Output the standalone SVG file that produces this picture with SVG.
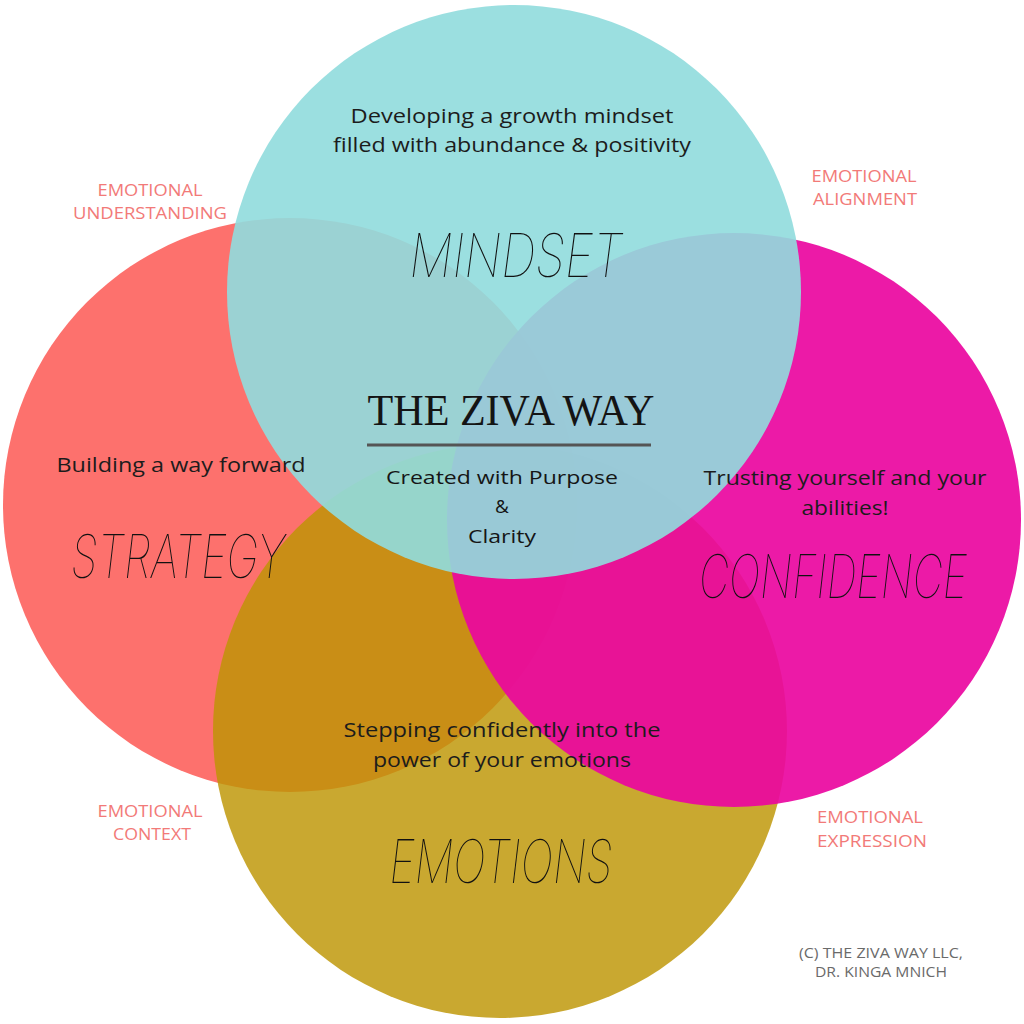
<svg xmlns="http://www.w3.org/2000/svg" width="1024" height="1024" viewBox="0 0 1024 1024">
  <style>
    .body { font-family: "Open Sans", "Noto Sans", "Liberation Sans", sans-serif; font-size: 20px; fill: #1c1c1c; text-anchor: middle; }
    .mid { font-family: "Open Sans", "Noto Sans", "Liberation Sans", sans-serif; font-size: 19px; font-weight: 500; fill: #151515; text-anchor: middle; }
    .tag { font-family: "Open Sans", "Noto Sans", "Liberation Sans", sans-serif; font-size: 17px; fill: #F27A78; text-anchor: middle; }
    .copy { font-family: "Open Sans", "Noto Sans", "Liberation Sans", sans-serif; font-size: 14px; fill: #6a6a6a; text-anchor: middle; }
    .script { font-family: "Inter", "Roboto", "Lato", sans-serif; font-weight: 100; font-style: italic; font-size: 60px; fill: #111; text-anchor: middle; }
    .title { font-family: "Liberation Serif", "DejaVu Serif", serif; font-size: 44px; fill: #141414; text-anchor: middle; }
  </style>
  <rect width="1024" height="1024" fill="#ffffff"/>

  <!-- circles -->
  <g id="circle-strategy"><circle cx="290" cy="505" r="287" fill="#FD716D"/></g>
  <g id="circle-emotions"><circle cx="500" cy="731" r="287" fill="#BD9502" fill-opacity="0.82"/></g>
  <g id="circle-confidence"><circle cx="734" cy="520" r="287" fill="#EA07A0" fill-opacity="0.92"/></g>
  <g id="circle-mindset"><circle cx="514" cy="292" r="287" fill="#91DCDD" fill-opacity="0.91"/></g>

  <g id="connectors"></g>

  <!-- labels -->
  <g id="node-mindset">
    <text class="body" x="512" y="123" textLength="323" lengthAdjust="spacingAndGlyphs">Developing a growth mindset</text>
    <text class="body" x="512" y="152" textLength="358" lengthAdjust="spacingAndGlyphs">filled with abundance &amp; positivity</text>
    <text class="script" x="516" y="277" textLength="213" lengthAdjust="spacingAndGlyphs">MINDSET</text>
  </g>

  <g id="node-center">
    <text class="title" x="511" y="425" textLength="287" lengthAdjust="spacingAndGlyphs">THE ZIVA WAY</text>
    <line x1="367" y1="445" x2="651" y2="445" stroke="#555555" stroke-width="3"/>
    <text class="mid" x="502" y="484" textLength="232" lengthAdjust="spacingAndGlyphs">Created with Purpose</text>
    <text class="mid" x="502" y="513">&amp;</text>
    <text class="mid" x="502" y="543" textLength="68" lengthAdjust="spacingAndGlyphs">Clarity</text>
  </g>

  <g id="node-strategy">
    <text class="body" x="181" y="472" textLength="249" lengthAdjust="spacingAndGlyphs">Building a way forward</text>
    <text class="script" x="178" y="578" textLength="214" lengthAdjust="spacingAndGlyphs">STRATEGY</text>
  </g>

  <g id="node-confidence">
    <text class="body" x="845" y="485" textLength="283" lengthAdjust="spacingAndGlyphs">Trusting yourself and your</text>
    <text class="body" x="845" y="515" textLength="87" lengthAdjust="spacingAndGlyphs">abilities!</text>
    <text class="script" x="833" y="598" textLength="268" lengthAdjust="spacingAndGlyphs">CONFIDENCE</text>
  </g>

  <g id="node-emotions">
    <text class="body" x="502" y="737" textLength="317" lengthAdjust="spacingAndGlyphs">Stepping confidently into the</text>
    <text class="body" x="502" y="767" textLength="258" lengthAdjust="spacingAndGlyphs">power of your emotions</text>
    <text class="script" x="501" y="883" textLength="223" lengthAdjust="spacingAndGlyphs">EMOTIONS</text>
  </g>

  <g id="tag-understanding">
    <text class="tag" x="150" y="196" textLength="105" lengthAdjust="spacingAndGlyphs">EMOTIONAL</text>
    <text class="tag" x="150" y="219" textLength="154" lengthAdjust="spacingAndGlyphs">UNDERSTANDING</text>
  </g>
  <g id="tag-alignment">
    <text class="tag" x="864" y="182" textLength="105" lengthAdjust="spacingAndGlyphs">EMOTIONAL</text>
    <text class="tag" x="865" y="205" textLength="104" lengthAdjust="spacingAndGlyphs">ALIGNMENT</text>
  </g>
  <g id="tag-context">
    <text class="tag" x="150" y="817" textLength="105" lengthAdjust="spacingAndGlyphs">EMOTIONAL</text>
    <text class="tag" x="152" y="840" textLength="78" lengthAdjust="spacingAndGlyphs">CONTEXT</text>
  </g>
  <g id="tag-expression">
    <text class="tag" x="870" y="823" textLength="106" lengthAdjust="spacingAndGlyphs">EMOTIONAL</text>
    <text class="tag" x="872" y="847" textLength="110" lengthAdjust="spacingAndGlyphs">EXPRESSION</text>
  </g>

  <g id="copyright">
    <text class="copy" x="881" y="958" textLength="164" lengthAdjust="spacingAndGlyphs">(C) THE ZIVA WAY LLC,</text>
    <text class="copy" x="881" y="977" textLength="132" lengthAdjust="spacingAndGlyphs">DR. KINGA MNICH</text>
  </g>
</svg>
